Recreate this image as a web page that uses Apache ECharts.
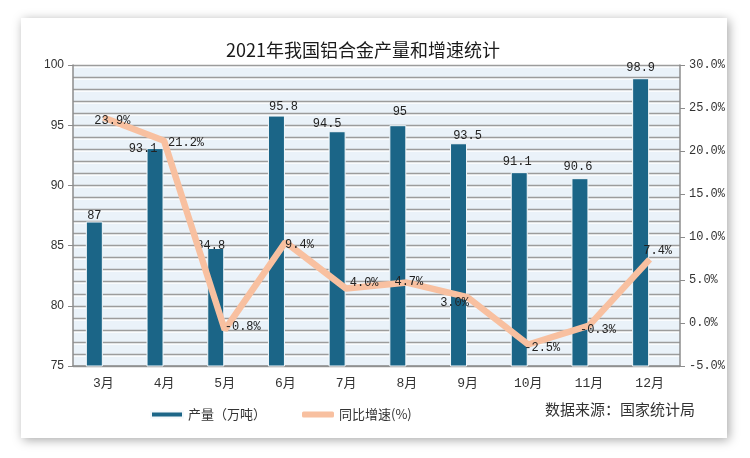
<!DOCTYPE html>
<html>
<head>
<meta charset="utf-8">
<script src="https://cdn.jsdelivr.net/npm/echarts@6/dist/echarts.min.js"></script>
<style>
html,body{margin:0;padding:0;background:#fff;}
#c{width:750px;height:458px;}
</style>
</head>
<body>
<div id="c"></div>
<script>
// ---- data ----
var months = ['3月','4月','5月','6月','7月','8月','9月','10月','11月','12月'];
var output = [87, 93.1, 84.8, 95.8, 94.5, 95, 93.5, 91.1, 90.6, 98.9];
var growth = [23.9, 21.2, -0.8, 9.4, 4.0, 4.7, 3.0, -2.5, -0.3, 7.4];
var leftTicks = {min: 75, max: 100, step: 5};
var rightTicks = {min: -5, max: 30, step: 5};
var titleText = '2021年我国铝合金产量和增速统计';
var seriesNames = ['产量（万吨）', '同比增速(%)'];
var sourceText = '数据来源：国家统计局';

// ---- label placement (style, not data) ----
var growthLabelOffsets = [[9,3],[22,2],[18,-3],[14,3],[18,-6],[2,-1],[-13,6],[14,3],[9,4],[8,-9]];
var outputLabelOffsets = [[0,1],[-12,8],[-5,5],[7,-2],[-10,0],[2,-6],[9,0],[-2,-3],[-2,-4],[0,-3]];

var mono = "'Liberation Mono','Noto Sans CJK SC',monospace";
var chart = echarts.init(document.getElementById('c'), null, {renderer: 'canvas'});

var lineData = growth.map(function (v, i) {
  return {value: v, label: {offset: growthLabelOffsets[i]}};
});
var barData = output.map(function (v, i) {
  return {value: v, label: {offset: outputLabelOffsets[i]}};
});

var gridLineStyle = {color: '#9c9c9c', width: 1.4, shadowColor: '#ffffff', shadowOffsetY: 1.5};

chart.setOption({
  animation: false,
  backgroundColor: '#fff',
  graphic: [
    {
      type: 'rect', z: -10, left: 21, top: 18,
      shape: {width: 706, height: 420},
      style: {fill: '#fff', shadowBlur: 10, shadowOffsetX: 2, shadowOffsetY: 2, shadowColor: 'rgba(0,0,0,0.35)'}
    },
    {
      type: 'text', left: 545, top: 402,
      style: {text: sourceText, fill: '#333', font: "15px 'Noto Sans CJK SC'"}
    }
  ],
  title: {
    text: titleText,
    left: 358, top: 36,
    textAlign: 'center',
    textStyle: {fontSize: 18, fontWeight: 'normal', color: '#1a1a1a', fontFamily: "'Noto Sans CJK SC'"}
  },
  legend: {
    left: 145, top: 403,
    itemWidth: 32, itemHeight: 6, itemGap: 36,
    textStyle: {fontSize: 13, color: '#333', fontFamily: "'Noto Sans CJK SC'"},
    data: [
      {name: seriesNames[0], icon: 'rect'},
      {name: seriesNames[1], icon: 'roundRect'}
    ]
  },
  grid: {
    left: 73, right: 70, top: 65, bottom: 92,
    show: true, backgroundColor: '#EAF2F9', borderWidth: 0
  },
  xAxis: {
    type: 'category',
    data: months,
    boundaryGap: true,
    axisLine: {onZero: false, lineStyle: {color: '#8c8c8c', width: 1.5}},
    axisTick: {show: false},
    axisLabel: {margin: 11, fontSize: 13, color: '#333', fontFamily: mono},
    splitLine: {show: false}
  },
  yAxis: [
    {
      type: 'value', min: leftTicks.min, max: leftTicks.max, interval: leftTicks.step,
      axisLine: {show: true, lineStyle: {color: '#8c8c8c', width: 1.5}},
      axisTick: {show: true, length: 5, lineStyle: {color: '#8c8c8c'}},
      axisLabel: {margin: 9, fontSize: 12, color: '#333', fontFamily: "'Liberation Sans',Arial"},
      splitLine: {show: true, lineStyle: gridLineStyle},
      minorTick: {show: false, splitNumber: 5},
      minorSplitLine: {show: true, lineStyle: gridLineStyle}
    },
    {
      type: 'value', min: rightTicks.min, max: rightTicks.max, interval: rightTicks.step,
      position: 'right',
      axisLine: {show: true, onZero: false, lineStyle: {color: '#8c8c8c', width: 1.5}},
      axisTick: {show: true, length: 5, lineStyle: {color: '#8c8c8c'}},
      axisLabel: {margin: 9, fontSize: 12, color: '#333', fontFamily: mono,
        formatter: function (v) { return v.toFixed(1) + '%'; }},
      splitLine: {show: false}
    }
  ],
  series: [
    {
      name: seriesNames[0],
      type: 'bar',
      yAxisIndex: 0,
      data: barData,
      barWidth: 17,
      barGap: '6%',
      itemStyle: {color: '#1B6587', borderColor: '#f4f8fb', borderWidth: 1},
      label: {show: true, position: 'top', distance: 1, fontSize: 12, color: '#222', fontFamily: mono},
      z: 2
    },
    {
      name: 'spacer',
      type: 'bar',
      yAxisIndex: 0,
      data: [],
      barWidth: 17,
      barGap: '6%'
    },
    {
      name: seriesNames[1],
      type: 'line',
      yAxisIndex: 1,
      data: lineData,
      symbol: 'circle',
      symbolSize: 1,
      showSymbol: true,
      lineStyle: {color: '#F8C0A0', width: 6.5},
      itemStyle: {color: '#F8C0A0'},
      label: {
        show: true, position: 'inside', fontSize: 12, color: '#222', fontFamily: mono,
        formatter: function (p) { return p.value.toFixed(1) + '%'; }
      },
      z: 3
    }
  ]
});
</script>
</body>
</html>
